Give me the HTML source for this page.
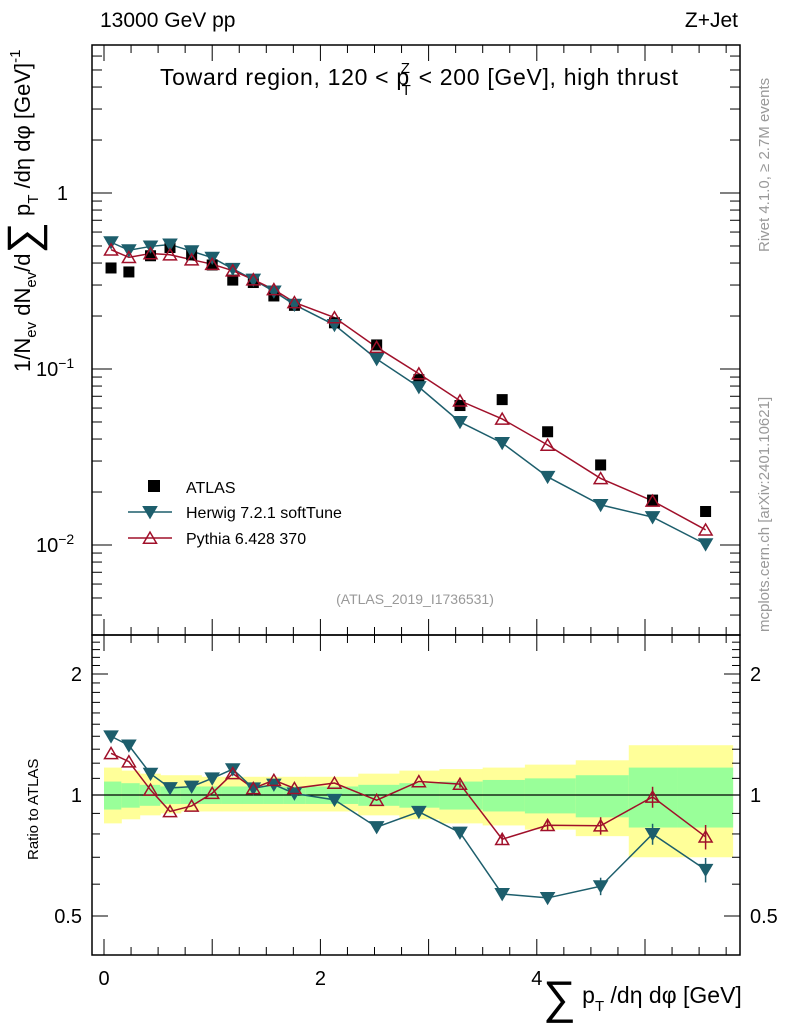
<!DOCTYPE html>
<html><head><meta charset="utf-8"><style>
body{margin:0;background:#fff;width:786px;height:1024px;overflow:hidden;font-family:"Liberation Sans",sans-serif}
svg text{font-family:"Liberation Sans",sans-serif}
</style></head><body>
<svg id="c" width="786" height="1024" xmlns="http://www.w3.org/2000/svg"></svg>
<script>
const xs=[0.065,0.23,0.43,0.61,0.81,1.0,1.19,1.38,1.57,1.76,2.13,2.52,2.91,3.29,3.68,4.10,4.59,5.07,5.56];
const edges=[0,0.16,0.33,0.52,0.71,0.9,1.09,1.28,1.47,1.66,1.86,2.35,2.73,3.1,3.5,3.89,4.36,4.85,5.3,5.81];
const atlas=[0.375,0.356,0.44,0.49,0.445,0.39,0.32,0.31,0.26,0.23,0.183,0.137,0.087,0.062,0.067,0.044,0.0285,0.018,0.0155];
const herwig=[0.525,0.473,0.497,0.51,0.467,0.429,0.371,0.322,0.276,0.232,0.178,0.114,0.079,0.050,0.038,0.0244,0.0169,0.0144,0.0101];
const pythia=[0.476,0.431,0.453,0.446,0.418,0.394,0.362,0.322,0.283,0.239,0.196,0.133,0.094,0.066,0.052,0.037,0.0239,0.0178,0.0122];
const yelHi=[1.17,1.15,1.13,1.12,1.12,1.11,1.11,1.11,1.11,1.11,1.11,1.13,1.15,1.16,1.17,1.19,1.22,1.33,1.33];
const yelLo=[0.85,0.87,0.89,0.90,0.91,0.91,0.91,0.91,0.91,0.91,0.91,0.89,0.87,0.85,0.84,0.82,0.79,0.70,0.70];
const grnHi=[1.08,1.07,1.06,1.05,1.05,1.05,1.05,1.05,1.05,1.05,1.05,1.06,1.07,1.08,1.09,1.10,1.12,1.17,1.17];
const grnLo=[0.92,0.93,0.94,0.95,0.95,0.95,0.95,0.95,0.95,0.95,0.95,0.94,0.93,0.92,0.91,0.90,0.88,0.83,0.83];
const ratErr=[0,0,0,0,0,0,0,0,0,0,0,0,0,0.01,0.015,0.015,0.025,0.03,0.035];

const S=document.getElementById('c');const NS='http://www.w3.org/2000/svg';
function el(t,a,p){const e=document.createElementNS(NS,t);for(const k in a)e.setAttribute(k,a[k]);(p||S).appendChild(e);return e;}
const L=92,R=740,T1=45,B1=635,B2=955;
const X=v=>104+v*108.2;
const Y1=v=>193-Math.log10(v)*176;
const Y2=v=>795-Math.log2(v)*121;
for(let i=0;i<xs.length;i++){
 let r=el('rect',{x:X(edges[i]),y:Y2(yelHi[i]),width:X(edges[i+1])-X(edges[i])+0.5,height:Y2(yelLo[i])-Y2(yelHi[i]),fill:'#ffff99'});
 
 let g=el('rect',{x:X(edges[i]),y:Y2(grnHi[i]),width:X(edges[i+1])-X(edges[i])+0.5,height:Y2(grnLo[i])-Y2(grnHi[i]),fill:'#99ff99'});
 
}
el('line',{x1:L,x2:R,y1:Y2(1),y2:Y2(1),stroke:'#000','stroke-width':1.3});
el('rect',{x:L,y:T1,width:R-L,height:B1-T1,fill:'none',stroke:'#000','stroke-width':1.5});
el('rect',{x:L,y:B1,width:R-L,height:B2-B1,fill:'none',stroke:'#000','stroke-width':1.5});
for(const y0 of [[T1,1],[B1,1],[B1,-1],[B2,-1]]){
 for(let v=0;v<=5.8;v+=0.25){const big=Math.abs(v%1)<1e-6;const len=big?16:8;
  el('line',{x1:X(v),x2:X(v),y1:y0[0],y2:y0[0]+y0[1]*len,stroke:'#000','stroke-width':1});}
}
function yt(Y,vals,x0,dir,len){for(const v of vals){el('line',{x1:x0,x2:x0+dir*len,y1:Y(v),y2:Y(v),stroke:'#000','stroke-width':1});}}
let minor=[];for(const d of [0.001,0.01,0.1,1]){for(let k=2;k<=9;k++){const v=d*k;if(v>0.0031&&v<6.9)minor.push(v);}}
yt(Y1,minor,L,1,10);yt(Y1,minor,R,-1,10);yt(Y1,[0.01,0.1,1],L,1,20);yt(Y1,[0.01,0.1,1],R,-1,20);
let rm=[0.5,0.6,0.7,0.8,0.9,1.1,1.2,1.3,1.4,1.5,1.6,1.7,1.8,1.9,2.1,2.2,2.3,2.4];
yt(Y2,rm,L,1,8);yt(Y2,rm,R,-1,8);yt(Y2,[0.5,1,2],L,1,16);yt(Y2,[0.5,1,2],R,-1,16);
function tx(x,y,s,o){const t=el('text',Object.assign({x:x,y:y,'font-size':20},o||{}));t.textContent=s;return t;}
let t;
t=tx(68,200,'1',{'text-anchor':'end'});
t=el('text',{x:36,y:376,'font-size':20});t.innerHTML='10<tspan dy="-8" font-size="14">−1</tspan>';
t=el('text',{x:36,y:552,'font-size':20});t.innerHTML='10<tspan dy="-8" font-size="14">−2</tspan>';
for(const [v,s] of [[2,'2'],[1,'1'],[0.5,'0.5']]){tx(82,Y2(v)+7,s,{'text-anchor':'end'});tx(750,Y2(v)+7,s);}
for(const v of [0,2,4]){const tt=tx(X(v),985,String(v),{'text-anchor':'middle'});}
t=el('text',{x:543,y:1003,'font-size':23});t.innerHTML='<tspan font-size="46" dy="10">∑</tspan><tspan dy="-10"> p</tspan><tspan font-size="15" dy="8">T</tspan><tspan dy="-8"> /dη dφ [GeV]</tspan>';

t=tx(100,27,'13000 GeV pp',{'font-size':21});
t=tx(738,27,'Z+Jet',{'text-anchor':'end','font-size':21});
t=el('text',{x:160,y:85,'font-size':23,textLength:518});t.innerHTML='Toward region, 120 &lt; p<tspan font-size="15" dx="-9" dy="-12">Z</tspan><tspan font-size="15" dx="-9" dy="22">T</tspan><tspan dy="-10"> &lt; 200 [GeV], high thrust</tspan>';

t=tx(415,604,'(ATLAS_2019_I1736531)',{'text-anchor':'middle','font-size':14,fill:'#999'});
t=el('text',{x:0,y:0,'font-size':22,transform:'translate(30,372) rotate(-90)'});
t.innerHTML='1/N<tspan font-size="15" dy="6">ev</tspan><tspan dy="-6"> dN</tspan><tspan font-size="15" dy="6">ev</tspan><tspan dy="-6">/d</tspan><tspan font-size="44" dy="8">∑</tspan><tspan dy="-8"> p</tspan><tspan font-size="15" dy="8">T</tspan><tspan dy="-8"> /dη dφ  [GeV]</tspan><tspan font-size="15" dy="-10">-1</tspan>';

t=tx(0,0,'Ratio to ATLAS',{'font-size':15,transform:'translate(38,860) rotate(-90)'});
t=tx(0,0,'Rivet 4.1.0, ≥ 2.7M events',{'font-size':15,fill:'#999',transform:'translate(769,252) rotate(-90)'});
t=tx(0,0,'mcplots.cern.ch [arXiv:2401.10621]',{'font-size':15,fill:'#999',transform:'translate(769,632) rotate(-90)'});
function tri(x,y,down,col,fill,name){const s=6.5;const p=down?`${x-s},${y-s*0.8} ${x+s},${y-s*0.8} ${x},${y+s*0.9}`:`${x-s},${y+s*0.8} ${x+s},${y+s*0.8} ${x},${y-s*0.9}`;
 const e=el('polygon',{points:p,fill:fill,stroke:col,'stroke-width':1.5});}
const HC='#1d5e6c',PC='#a0102a';
function line(Yf,vals,col){el('polyline',{points:xs.map((x,i)=>X(x)+','+Yf(vals[i])).join(' '),fill:'none',stroke:col,'stroke-width':1.5});}
line(Y1,herwig,HC);line(Y1,pythia,PC);
line(Y2,herwig.map((v,i)=>v/atlas[i]),HC);line(Y2,pythia.map((v,i)=>v/atlas[i]),PC);
xs.forEach((x,i)=>{
 const r=el('rect',{x:X(x)-5.5,y:Y1(atlas[i])-5.5,width:11,height:11,fill:'#000'});
 tri(X(x),Y1(herwig[i]),true,HC,HC,'herwig-point');tri(X(x),Y1(pythia[i]),false,PC,'none','pythia-point');
 const hr=herwig[i]/atlas[i],pr=pythia[i]/atlas[i];
 if(ratErr[i]>0){for(const [r2,c] of [[hr,HC],[pr,PC]]){el('line',{x1:X(x),x2:X(x),y1:Y2(r2*(1+ratErr[i]*2)),y2:Y2(r2*(1-ratErr[i]*2)),stroke:c,'stroke-width':1.5});}}
 tri(X(x),Y2(hr),true,HC,HC,'herwig-ratio');tri(X(x),Y2(pr),false,PC,'none','pythia-ratio');
});
const lg=el('g',{});
el('rect',{x:148,y:480,width:12,height:12,fill:'#000'},lg);tx(186,493,'ATLAS',{'font-size':16});
el('line',{x1:128,x2:172,y1:512,y2:512,stroke:HC,'stroke-width':1.5},lg);tri(150,512,true,HC,HC,'legend-herwig-marker');
tx(186,518,'Herwig 7.2.1 softTune',{'font-size':16});
el('line',{x1:128,x2:172,y1:538,y2:538,stroke:PC,'stroke-width':1.5},lg);tri(150,538,false,PC,'none','legend-pythia-marker');
tx(186,544,'Pythia 6.428 370',{'font-size':16});
</script>
</body></html>
